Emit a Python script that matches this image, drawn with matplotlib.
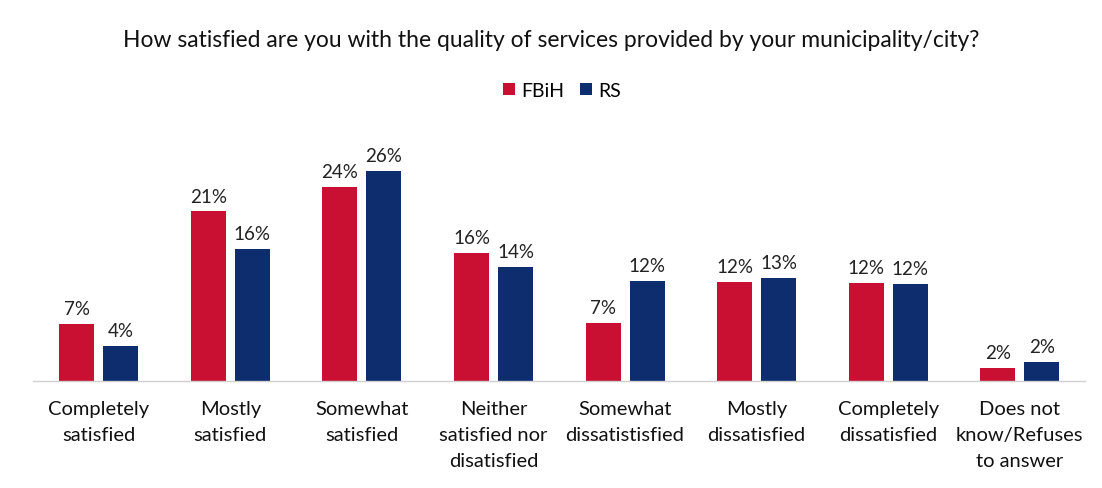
import matplotlib
matplotlib.use("Agg")
import matplotlib.pyplot as plt
import numpy as np

# survey answers, share of respondents (%)
categories = ["Completely\nsatisfied", "Mostly\nsatisfied", "Somewhat\nsatisfied",
              "Neither\nsatisfied nor\ndisatisfied", "Somewhat\ndissatistisfied",
              "Mostly\ndissatisfied", "Completely\ndissatisfied",
              "Does not\nknow/Refuses\nto answer"]
fbih = [7.0, 21.0, 24.0, 15.8, 7.2, 12.3, 12.1, 1.6]
rs = [4.3, 16.4, 26.0, 14.1, 12.4, 12.8, 12.0, 2.4]
series_names = ["FBiH", "RS"]

RED = "#C91032"
BLUE = "#0E2D6E"
FONT = "Lato"

fig = plt.figure(figsize=(11.02, 4.89), dpi=100)
ax = fig.add_axes([0.03, 0.219, 0.955, 0.495])

x = np.arange(len(categories))
w = 0.266
off = 0.167
b1 = ax.bar(x - off, fbih, w, color=RED, label=series_names[0])
b2 = ax.bar(x + off, rs, w, color=BLUE, label=series_names[1])

for bars, vals in ((b1, fbih), (b2, rs)):
    for bar, v in zip(bars, vals):
        ax.annotate("{:.0f}%".format(v),
                    (bar.get_x() + bar.get_width() / 2, v),
                    xytext=(0, 5), textcoords="offset points",
                    ha="center", va="bottom", fontsize=13.5,
                    family=FONT, color="#222222")

ax.set_xlim(-0.5, 7.5)
ax.set_ylim(0, 30)
ax.set_yticks([])
ax.set_xticks(x)
ax.set_xticklabels(categories, family=FONT, fontsize=14.5, color="#111111",
                   linespacing=1.62)
ax.tick_params(axis="x", length=0, pad=14)
for side in ("top", "right", "left"):
    ax.spines[side].set_visible(False)
ax.spines["bottom"].set_color("#D0D0D0")
ax.spines["bottom"].set_linewidth(1.0)

fig.text(0.5, 0.918,
         "How satisfied are you with the quality of services provided by your municipality/city?",
         ha="center", va="center", fontsize=16.5, family=FONT, color="#111111")

fig.legend(handles=[b1, b2], labels=series_names, loc="center",
           bbox_to_anchor=(0.51, 0.813), ncol=2, frameon=False,
           prop={"family": FONT, "size": 14}, handlelength=0.6,
           handleheight=0.6, handletextpad=0.35, columnspacing=0.8)

fig.savefig("out.png", dpi=100, facecolor="white")
